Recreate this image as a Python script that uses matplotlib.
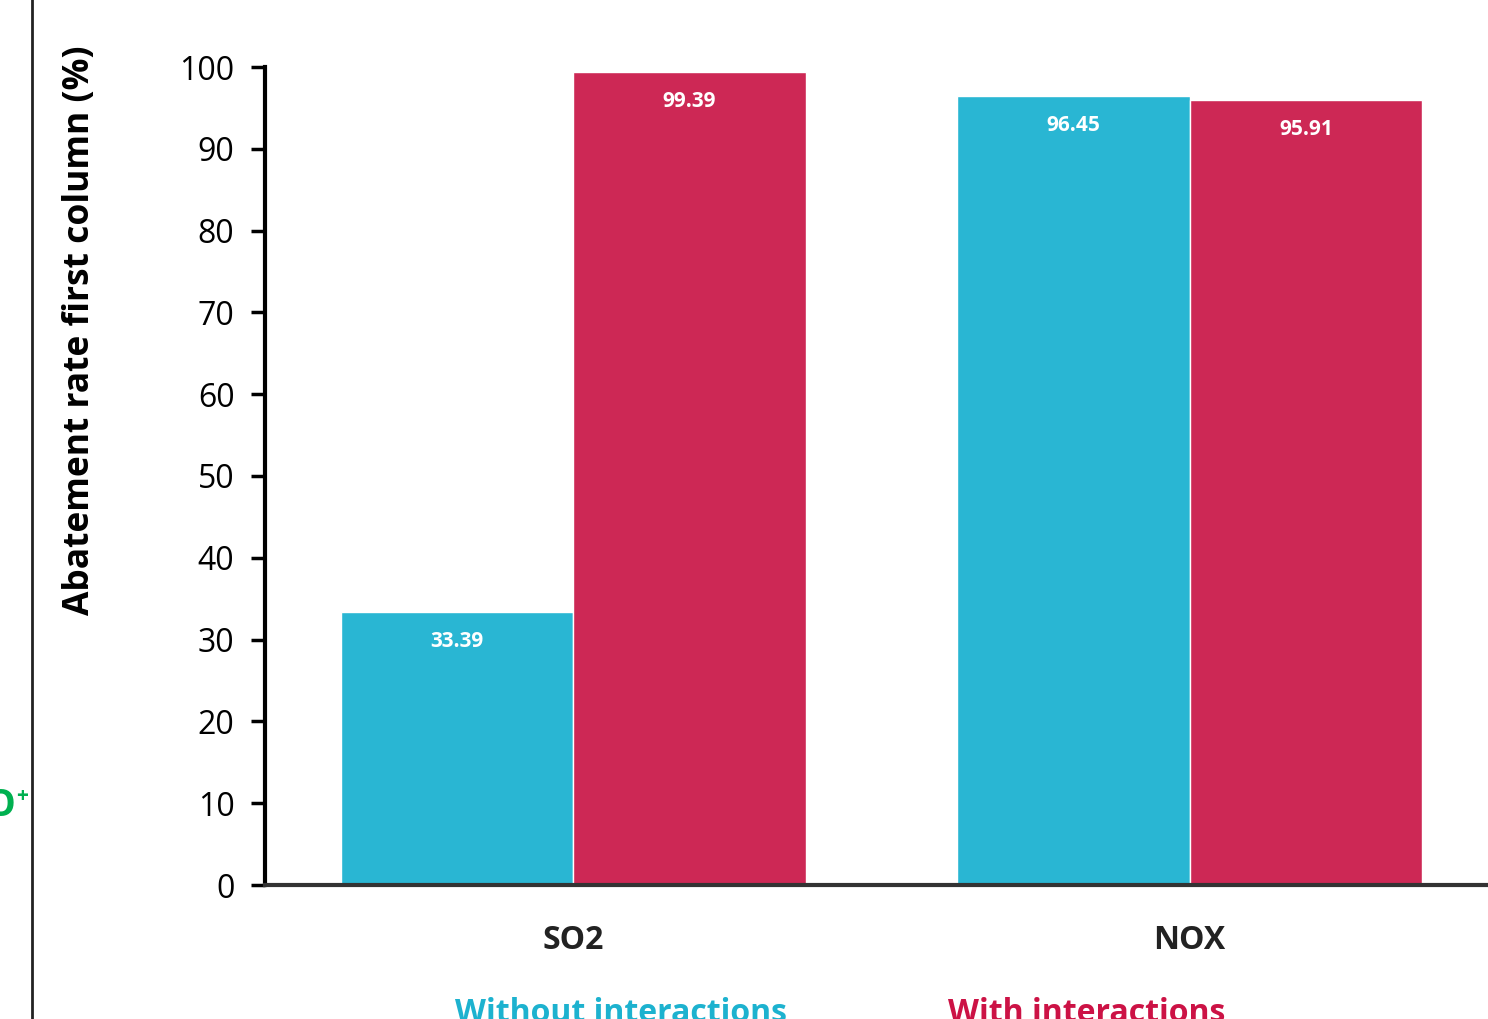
import matplotlib
matplotlib.use("Agg")
import matplotlib.pyplot as plt
import numpy as np

categories = ["SO2", "NOX"]
without_vals = [33.39, 96.45]
with_vals = [99.39, 95.91]
series_names = ["Without interactions", "With interactions"]
yticks = [0, 10, 20, 30, 40, 50, 60, 70, 80, 90, 100]

cyan = "#29B6D3"
red = "#CD2855"
font = "Open Sans"

W, H = 1488, 1019
fig = plt.figure(figsize=(W / 100, H / 100), dpi=100)
ax = fig.add_axes([265 / W, (H - 885) / H, (1498 - 265) / W, (885 - 67) / H])

x = np.arange(len(categories))
bw = 0.377
b1 = ax.bar(x - bw / 2, without_vals, bw, color=cyan, edgecolor="white", linewidth=1)
b2 = ax.bar(x + bw / 2, with_vals, bw, color=red, edgecolor="white", linewidth=1)

for bars, vals in ((b1, without_vals), (b2, with_vals)):
    for b, v in zip(bars, vals):
        ax.text(b.get_x() + b.get_width() / 2, v - 3.6, f"{v:.2f}", ha="center", va="center",
                color="white", fontsize=15, fontweight="bold", family=font)

ax.set_xlim(-0.5, 1.5)
ax.set_ylim(0, 100)
ax.set_yticks(yticks)
ax.set_yticklabels([str(t) for t in yticks], fontsize=23, family=font)
ax.set_xticks(x)
ax.set_xticklabels(categories, fontsize=23, fontweight="bold", family=font, color="#222222")
ax.tick_params(axis="y", length=10, width=2.5, pad=12)
ax.tick_params(axis="x", length=0, pad=28)
for s in ("top", "right"):
    ax.spines[s].set_visible(False)
ax.spines["left"].set_linewidth(3)
ax.spines["left"].set_color("black")
ax.spines["bottom"].set_linewidth(3)
ax.spines["bottom"].set_color("#333333")

fig.text(80 / W, 1 - 330 / H, "Abatement rate first column (%)", rotation=90, ha="center", va="center",
         fontsize=25.5, fontweight="bold", family=font)

fig.text(621 / W, 1 - 1014 / H, series_names[0], ha="center", va="center", fontsize=23,
         fontweight="bold", family=font, color="#1DB2CF")
fig.text(1087 / W, 1 - 1014 / H, series_names[1], ha="center", va="center", fontsize=23,
         fontweight="bold", family=font, color="#CC1245")

fig.add_artist(plt.Line2D([32 / W, 32 / W], [0, 1], color="#222222", linewidth=2))
fig.text(16 / W, 1 - 806 / H, "O", ha="right", va="center", fontsize=27, fontweight="bold",
         family=font, color="#00B050")
fig.text(16 / W, 1 - 797 / H, "+", ha="left", va="center", fontsize=15, fontweight="bold",
         family=font, color="#00B050")

fig.savefig("out.png", dpi=100)
